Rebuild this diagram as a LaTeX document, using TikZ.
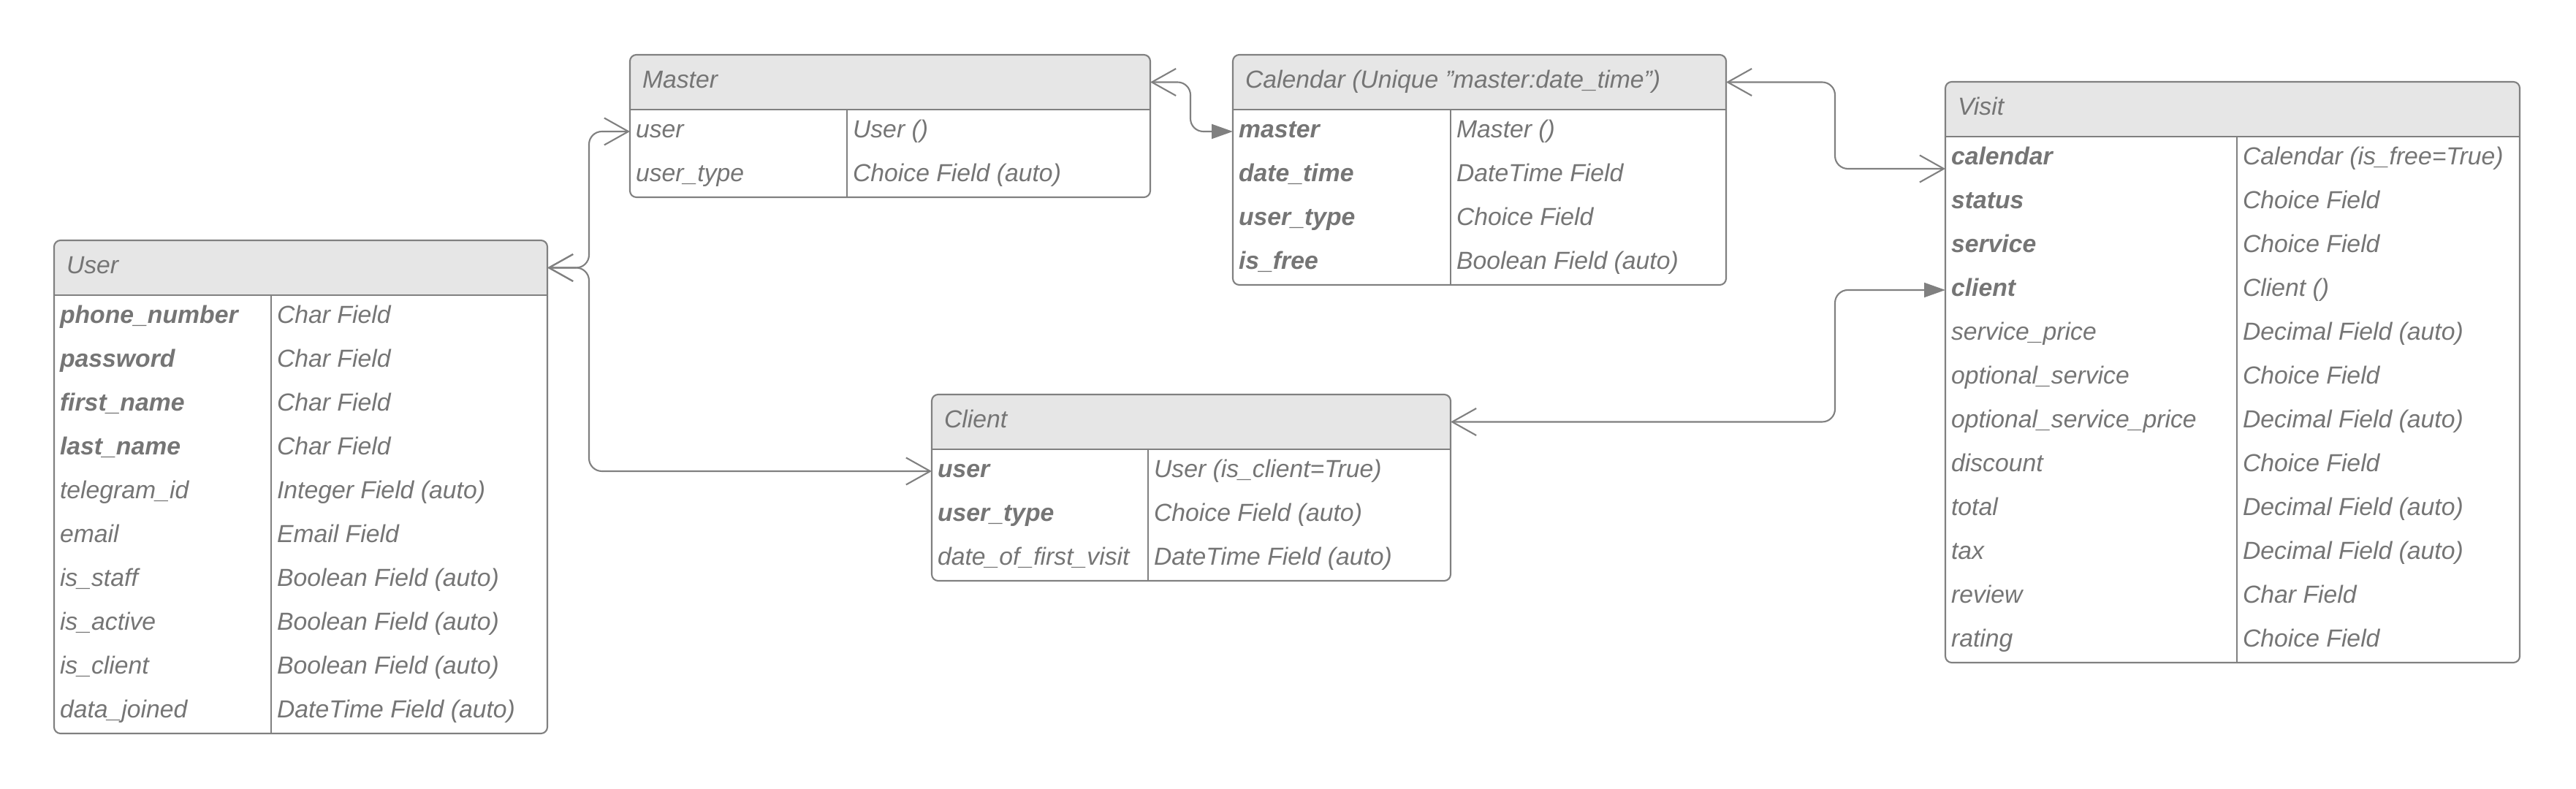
\documentclass[tikz,border=0pt]{standalone}
\usepackage{fontspec}
\setmainfont{Liberation Sans}
\usetikzlibrary{arrows.meta}
\definecolor{linegray}{RGB}{128,128,128}
\definecolor{textgray}{RGB}{117,117,117}
\definecolor{headgray}{RGB}{230,230,230}

\tikzset{
  tblhead/.style={anchor=north west, fill=headgray, rounded corners=2.5pt, minimum height=0.75cm, inner sep=0pt, outer sep=0pt},
  tbltitle/.style={anchor=west, inner xsep=0.17cm, outer sep=0pt, text height=0.23cm, text depth=0.07cm, text=textgray, font=\fontsize{9.6pt}{11pt}\selectfont\itshape},
  fname/.style={anchor=west, minimum height=0.6cm, inner xsep=0.08cm, inner ysep=0pt, outer sep=0pt, text height=0.24cm, text depth=0.07cm, text=textgray, font=\fontsize{9.6pt}{11pt}\selectfont\itshape},
  keyname/.style={fname, font=\fontsize{9.6pt}{11pt}\selectfont\bfseries\itshape},
  ftype/.style={fname},
  tblline/.style={draw=linegray, line width=0.6pt},
  link/.style={draw=linegray, line width=0.6pt, rounded corners=5pt},
  many/.style={{Straight Barb[length=0.33cm,width=0.37cm]}-{Straight Barb[length=0.33cm,width=0.37cm]}},
  toone/.style={{Straight Barb[length=0.33cm,width=0.37cm]}-{Triangle[length=0.29cm,width=0.2cm]}}
}

\begin{document}
\begin{tikzpicture}
\useasboundingbox (0,0) rectangle (35.25,10.80);

% User
\node[tblhead, minimum width=6.75cm] (user) at (0.74,7.51) {};
\foreach \f/\t/\s [count=\i] in {phone\_number/Char Field/keyname, password/Char Field/keyname,
  first\_name/Char Field/keyname, last\_name/Char Field/keyname, telegram\_id/Integer Field (auto)/fname,
  email/Email Field/fname, is\_staff/Boolean Field (auto)/fname, is\_active/Boolean Field (auto)/fname,
  is\_client/Boolean Field (auto)/fname, data\_joined/DateTime Field (auto)/fname}{
  \node[\s] (user-\i) at (0.74,{6.46-0.6*(\i-1)}) {\f};
  \node[ftype] (user-t\i) at (3.71,{6.46-0.6*(\i-1)}) {\t};
}

% Master
\node[tblhead, minimum width=7.12cm] (master) at (8.62,10.05) {};
\foreach \f/\t/\s [count=\i] in {user/User ()/fname, user\_type/Choice Field (auto)/fname}{
  \node[\s] (master-\i) at (8.62,{9.00-0.6*(\i-1)}) {\f};
  \node[ftype] (master-t\i) at (11.59,{9.00-0.6*(\i-1)}) {\t};
}

% Calendar
\node[tblhead, minimum width=6.75cm] (calendar) at (16.87,10.05) {};
\foreach \f/\t/\s [count=\i] in {master/Master ()/keyname, date\_time/DateTime Field/keyname,
  user\_type/Choice Field/keyname, is\_free/Boolean Field (auto)/keyname}{
  \node[\s] (calendar-\i) at (16.87,{9.00-0.6*(\i-1)}) {\f};
  \node[ftype] (calendar-t\i) at (19.85,{9.00-0.6*(\i-1)}) {\t};
}

% Client
\node[tblhead, minimum width=7.10cm] (client) at (12.75,5.40) {};
\foreach \f/\t/\s [count=\i] in {user/User (is\_client=True)/keyname, user\_type/Choice Field (auto)/keyname,
  date\_of\_first\_visit/DateTime Field (auto)/fname}{
  \node[\s] (client-\i) at (12.75,{4.35-0.6*(\i-1)}) {\f};
  \node[ftype] (client-t\i) at (15.71,{4.35-0.6*(\i-1)}) {\t};
}

% Visit
\node[tblhead, minimum width=7.86cm] (visit) at (26.62,9.68) {};
\foreach \f/\t/\s [count=\i] in {calendar/Calendar (is\_free=True)/keyname, status/Choice Field/keyname,
  service/Choice Field/keyname, client/Client ()/keyname, service\_price/Decimal Field (auto)/fname,
  optional\_service/Choice Field/fname, optional\_service\_price/Decimal Field (auto)/fname,
  discount/Choice Field/fname, total/Decimal Field (auto)/fname, tax/Decimal Field (auto)/fname,
  review/Char Field/fname, rating/Choice Field/fname}{
  \node[\s] (visit-\i) at (26.62,{8.63-0.6*(\i-1)}) {\f};
  \node[ftype] (visit-t\i) at (30.61,{8.63-0.6*(\i-1)}) {\t};
}

% frames and titles
\foreach \tb/\n/\ttl in {user/10/User, master/2/Master, calendar/4/Calendar (Unique "master:date\_time"),
  client/3/Client, visit/12/Visit}{
  \fill[headgray] (\tb.west) rectangle (\tb.south east);
  \draw[tblline, rounded corners=2.5pt] (\tb.north west) rectangle (\tb-\n.south -| \tb.east);
  \draw[tblline] (\tb.south west) -- (\tb.south east);
  \draw[tblline] (\tb-t1.west |- \tb.south) -- (\tb-t\n.south west);
  \node[tbltitle] (\tb-title) at (\tb.west) {\ttl};
}

% relations
\draw[link, many] (user.east) -- ++(0.57,0) |- (master-1.west);
\draw[link, many] (user.east) -- ++(0.57,0) |- (client-1.west);
\draw[link, toone] (master.east) -- ++(0.55,0) |- (calendar-1.west);
\draw[link, many] (calendar.east) -- ++(1.49,0) |- ([yshift=-0.14cm]visit-1.west);
\draw[link, toone] (client.east) -- ++(5.26,0) |- (visit-4.west);
\end{tikzpicture}
\end{document}
